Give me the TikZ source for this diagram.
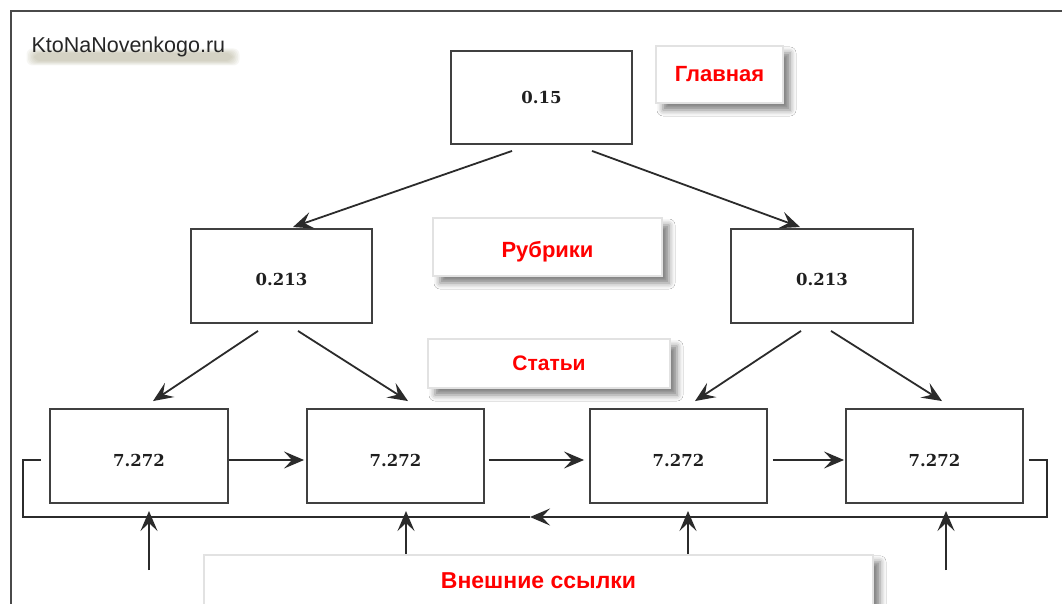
\documentclass[tikz,border=0pt]{standalone}
\usepackage{fontspec}
\setmainfont{Liberation Sans}
\newfontfamily\numfont{DejaVu Serif}
\usetikzlibrary{arrows.meta,shadows.blur}
\definecolor{linec}{HTML}{2B2B2B}
\definecolor{boxc}{HTML}{404040}
\definecolor{framec}{HTML}{4A4A4A}
\definecolor{lblred}{HTML}{FF0000}
\definecolor{wmshadow}{HTML}{8C8860}
\definecolor{lbledge}{HTML}{E2E2E2}
\newcommand{\lowered}[2]{\raisebox{#1}[\height][0pt]{#2}}
\begin{document}
\begin{tikzpicture}[x=1pt,y=-1pt,
  valbox/.style={draw=boxc, line width=1.9pt, fill=white, minimum height=94pt,
    inner sep=0pt, font=\numfont\bfseries\fontsize{16.5}{18}\selectfont, text=black!88},
  lblbox/.style={fill=white, draw=lbledge, line width=1.5pt, inner sep=0pt,
    font=\bfseries\fontsize{22}{24}\selectfont, text=lblred,
    blur shadow={shadow xshift=7pt, shadow yshift=-7pt,
    shadow blur radius=6pt, shadow opacity=50}},
  arr/.style={draw=linec, line width=1.8pt, -{Stealth[length=20pt,width=17pt,inset=8pt]}},
  plain/.style={draw=linec, line width=1.8pt},
  wm/.style={font=\fontsize{21.5}{24}\selectfont, anchor=base west}]
\useasboundingbox (0,0) rectangle (1062,604);
\fill[white] (0,0) rectangle (1062,604);
% frame
\draw[framec, line width=2.4pt] (11,650) -- (11,11) -- (1070,11);
% watermark soft shadow (blurred band under the text)
\foreach \r in {0,1.5,...,7.5}{
  \fill[wmshadow, opacity=0.07, rounded corners=6pt]
    (34-\r,53-\r*0.6) rectangle (232+\r,61+\r*0.6);
}
\node[wm, text=black!85] (wm) at (28,53) {KtoNaNovenkogo.ru};
% value boxes
\node[valbox, minimum width=181pt, minimum height=93pt] (top) at (541.5,97.5) {0.15};
\node[valbox, minimum width=181pt] (lm) at (281.5,276) {\lowered{-3pt}{0.213}};
\node[valbox, minimum width=182pt] (rm) at (822,276) {\lowered{-3pt}{0.213}};
\node[valbox, minimum width=178pt] (b1) at (139,456) {\lowered{-4pt}{7.272}};
\node[valbox, minimum width=177pt] (b2) at (395.5,456) {\lowered{-4pt}{7.272}};
\node[valbox, minimum width=177pt] (b3) at (678.5,456) {\lowered{-4pt}{7.272}};
\node[valbox, minimum width=177pt] (b4) at (934.5,456) {\lowered{-4pt}{7.272}};
% label boxes
\node[lblbox, minimum width=127pt, minimum height=57pt] (lglav) at (719.5,74.5) {Главная};
\node[lblbox, minimum width=229pt, minimum height=58pt] (lrub) at (547.5,247) {\lowered{-2pt}{Рубрики}};
\node[lblbox, minimum width=242pt, minimum height=49pt,
  font=\bfseries\fontsize{21}{24}\selectfont] (lstat) at (549,363.5) {Статьи};
\node[lblbox, anchor=north, minimum width=669pt, inner ysep=19pt, text height=15pt,
  text depth=45pt, font=\bfseries\fontsize{23}{26}\selectfont] (ext) at (538.5,554) {Внешние ссылки};
% tree arrows
\draw[arr] ([shift={(-29.5,6)}]top.south) -- ([shift={(11.5,-1)}]lm.north);
\draw[arr] ([shift={(50.5,6)}]top.south) -- ([shift={(-22,-1)}]rm.north);
\draw[arr] ([shift={(-23.5,7)}]lm.south) -- ([shift={(14,-7)}]b1.north);
\draw[arr] ([shift={(16.5,7)}]lm.south) -- ([shift={(12.5,-7)}]b2.north);
\draw[arr] ([shift={(-21,7)}]rm.south) -- ([shift={(16.5,-7)}]b3.north);
\draw[arr] ([shift={(9,7)}]rm.south) -- ([shift={(7.5,-7)}]b4.north);
% chain arrows
\draw[arr] ([shift={(0,4)}]b1.east) -- ([shift={(-2,4)}]b2.west);
\draw[arr] ([shift={(4,4)}]b2.east) -- ([shift={(-5,4)}]b3.west);
\draw[arr] ([shift={(5,4)}]b3.east) -- ([shift={(-1,4)}]b4.west);
% feedback loop
\coordinate (lpR) at (1047,517);
\coordinate (lpM) at (530,517);
\coordinate (lpL) at (23,517);
\draw[arr] ([shift={(5,4)}]b4.east) -| (lpR) -- (lpM);
\draw[plain] (lpM) -- (lpL) |- ([shift={(-8,4)}]b1.west);
% external link arrows
\coordinate (v1s) at (149,570);
\coordinate (v1e) at (149,511);
\coordinate (v2e) at (406,511);
\coordinate (v3e) at (688,511);
\coordinate (v4s) at (946,570);
\coordinate (v4e) at (946,511);
\draw[arr] (v1s) -- (v1e);
\draw[arr] (v2e |- ext.north) -- (v2e);
\draw[arr] (v3e |- ext.north) -- (v3e);
\draw[arr] (v4s) -- (v4e);
\end{tikzpicture}
\end{document}
